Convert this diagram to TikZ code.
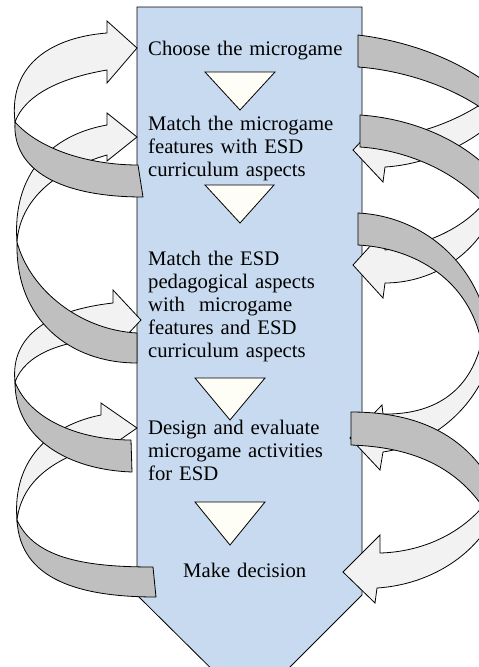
\documentclass[tikz,border=0pt]{standalone}
\usepackage{fontspec}
\setmainfont{Liberation Serif}
\definecolor{boxblue}{RGB}{200,218,239}
\definecolor{ribdark}{RGB}{191,191,191}
\definecolor{riblight}{RGB}{242,242,242}
\definecolor{tricream}{RGB}{254,253,246}
\tikzset{
  mainbox/.style={draw=black, line width=0.8pt, fill=boxblue},
  tribox/.style={draw=black, line width=0.8pt, fill=tricream},
  darkrib/.style={draw=black, line width=0.8pt, fill=ribdark},
  lightrib/.style={draw=black, line width=0.8pt, fill=riblight},
  steptext/.style={font=\fontsize{20.7}{23}\selectfont, text width=230pt, align=left, inner sep=0pt, anchor=base west}
}
\begin{document}
\begin{tikzpicture}[x=1pt,y=-1pt]
\useasboundingbox (0,0) rectangle (479,667);
\clip (0,0) rectangle (479,667);
% main down arrow
\path[mainbox] (137,7) -- (362,7) -- (362,595) -- (250,707) -- (137,595) -- cycle;
% triangles
\path[tribox] (205,72) -- (275,72) -- (240,110) -- cycle;
\path[tribox] (205,185) -- (274,185) -- (240,223) -- cycle;
\path[tribox] (195,378) -- (265,378) -- (230,420) -- cycle;
\path[tribox] (195,502) -- (265,502) -- (230,545) -- cycle;
% texts
\node[steptext] (s1) at (148,55) {Choose the microgame};
\node[steptext] (s2) at (148,130) {Match the microgame\\features with ESD\\curriculum aspects};
\node[steptext] (s3) at (148,265) {Match the ESD\\pedagogical aspects\\with\hspace{0.35em} microgame\\features and ESD\\curriculum aspects};
\node[steptext] (s4) at (148,434) {Design and evaluate\\microgame activities\\for ESD};
\node[steptext] (s5) at (183,577) {Make decision};
% ---------- left ribbons ----------
\path[lightrib] (137,48) -- (107,83) -- (107,70) .. controls (60,78) and (25,95) .. (15,122)
  .. controls (8,62) and (55,37) .. (107,33) -- (107,21) -- cycle;
\path[lightrib] (137,137) -- (107,161) -- (107,155) .. controls (55,170) and (20,200) .. (17,242)
  .. controls (12,175) and (50,135) .. (107,125) -- (107,113) -- cycle;
\path[darkrib] (15,122) .. controls (40,150) and (90,165) .. (138,165) -- (143,197)
  .. controls (60,197) and (12,170) .. (15,122) -- cycle;
\path[lightrib] (141,320) -- (113,350) -- (113,338) .. controls (60,340) and (25,355) .. (15,382)
  .. controls (10,335) and (50,310) .. (113,303) -- (113,290) -- cycle;
\path[darkrib] (17,242) .. controls (30,290) and (80,330) .. (137,333) -- (137,363)
  .. controls (70,363) and (15,320) .. (17,242) -- cycle;
\path[lightrib] (137,428) -- (101,453) -- (101,445) .. controls (55,458) and (22,480) .. (17,520)
  .. controls (12,460) and (50,425) .. (101,415) -- (101,403) -- cycle;
\path[darkrib] (15,382) .. controls (30,420) and (80,440) .. (131,440) -- (132,472)
  .. controls (70,470) and (15,440) .. (15,382) -- cycle;
\path[darkrib] (17,520) .. controls (35,560) and (90,567) .. (153,567) -- (156,597)
  .. controls (80,597) and (20,580) .. (17,520) -- cycle;
% ---------- right ribbons ----------
\path[lightrib] (353,150) -- (383,182) -- (385,167) .. controls (420,165) and (460,150) .. (490,125)
  -- (490,98) .. controls (460,120) and (420,135) .. (385,137) -- (383,118) -- cycle;
\path[darkrib] (358,35) .. controls (400,40) and (450,55) .. (490,85) -- (487,112)
  .. controls (450,85) and (400,70) .. (358,67) -- cycle;
\path[lightrib] (353,265) -- (383,298) -- (385,283) .. controls (425,283) and (468,262) .. (490,220)
  -- (490,195) .. controls (470,225) and (430,245) .. (385,250) -- (383,232) -- cycle;
\path[darkrib] (360,115) .. controls (405,118) and (455,135) .. (490,170) -- (487,207)
  .. controls (455,170) and (405,150) .. (360,147) -- cycle;
\path[lightrib] (350,438) -- (380,470) -- (383,452) .. controls (430,445) and (475,410) .. (490,360)
  -- (482,340) .. controls (470,395) and (430,415) .. (383,414) -- (382,405) -- cycle;
\path[darkrib] (358,213) .. controls (420,216) and (478,260) .. (490,335) -- (482,345)
  .. controls (470,280) and (415,248) .. (358,245) -- cycle;
\path[lightrib] (343,572) -- (375,603) -- (377,588) .. controls (425,585) and (470,560) .. (492,520)
  -- (488,500) .. controls (462,535) and (420,552) .. (380,553) -- (380,535) -- cycle;
\path[darkrib] (351,412) .. controls (410,412) and (460,430) .. (490,480) -- (485,510)
  .. controls (455,465) and (410,447) .. (351,445) -- cycle;
\end{tikzpicture}
\end{document}
